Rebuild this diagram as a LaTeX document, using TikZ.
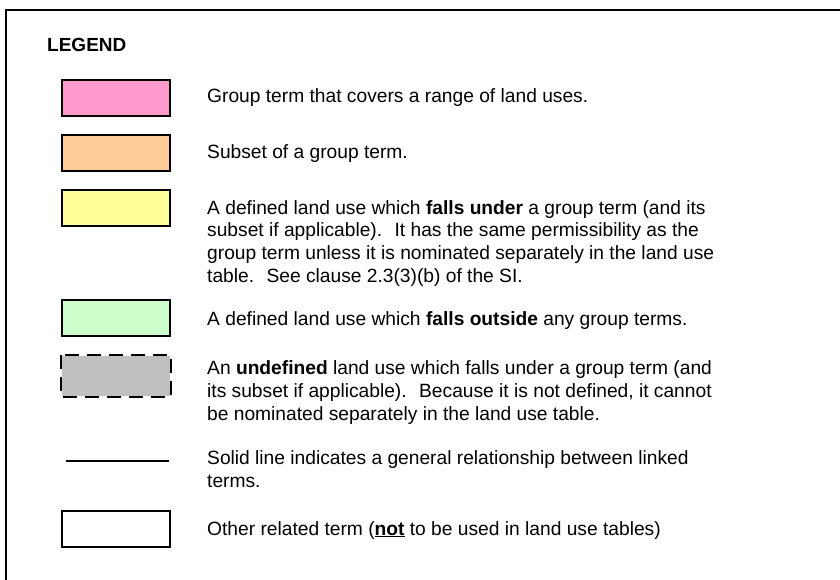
\documentclass[tikz,border=0pt]{standalone}
\usepackage{fontspec}
\setmainfont{Liberation Sans}

\definecolor{grouppink}{HTML}{FF99CC}
\definecolor{subsetorange}{HTML}{FFCC99}
\definecolor{underyellow}{HTML}{FFFF99}
\definecolor{outsidegreen}{HTML}{CCFFCC}
\definecolor{undefgray}{HTML}{C0C0C0}

\tikzset{
  keybox/.style={draw, line width=2pt, minimum width=108pt, minimum height=36pt, inner sep=0pt},
  keytext/.style={anchor=base west, align=left, inner sep=0pt, font=\fontsize{19.2}{22.6}\selectfont},
}

\begin{document}
\begin{tikzpicture}[x=1pt, y=-1pt]

\useasboundingbox (0,0) rectangle (840,579);
\clip (0,0) rectangle (840,579);

% Frame (runs off the right and bottom edges)
\draw[line width=2pt] (6,620) -- (6,10) -- (880,10);

% Title
\node[anchor=base west, inner sep=0pt, font=\fontsize{19}{22}\selectfont\bfseries] (legend) at (47,51) {LEGEND};

% Key boxes
\node[keybox, fill=grouppink] (groupbox) at (116,98) {};
\node[keybox, fill=subsetorange] (subsetbox) at (116,152.5) {};
\node[keybox, fill=underyellow] (underbox) at (116,208) {};
\node[keybox, fill=outsidegreen] (outsidebox) at (116,318) {};
\node[keybox, fill=undefgray, draw=none, minimum height=40pt] (undefbox) at (116,376) {};
\draw[line width=2.3pt, dash pattern=on 14pt off 8pt] (undefbox.north west) rectangle (undefbox.south east);
\coordinate (linestart) at (66,461);
\coordinate (lineend) at (169,461);
\draw[line width=2pt] (linestart) -- (lineend);
\node[keybox, fill=white] (otherbox) at (116,528.5) {};

% Key texts (multi-line ones sit on their last baseline)
\node[keytext] (grouptext) at (207,102.5) {Group term that covers a range of land uses.};
\node[keytext] (subsettext) at (207,158) {Subset of a group term.};
\node[keytext] (undertext) at (207,282) {A defined land use which \textbf{falls under} a group term (and its\\
subset if applicable).~ It has the same permissibility as the\\
group term unless it is nominated separately in the land use\\
table.~ See clause 2.3(3)(b) of the SI.};
\node[keytext] (outsidetext) at (207,325.5) {A defined land use which \textbf{falls outside} any group terms.};
\node[keytext] (undeftext) at (207,420) {An \textbf{undefined} land use which falls under a group term (and\\
its subset if applicable).~ Because it is not defined, it cannot\\
be nominated separately in the land use table.};
\node[keytext] (linetext) at (207,487.5) {Solid line indicates a general relationship between linked\\
terms.};
\node[keytext] (othertext) at (207,535) {Other related term (\underline{\textbf{not}} to be used in land use tables)};

\end{tikzpicture}
\end{document}
